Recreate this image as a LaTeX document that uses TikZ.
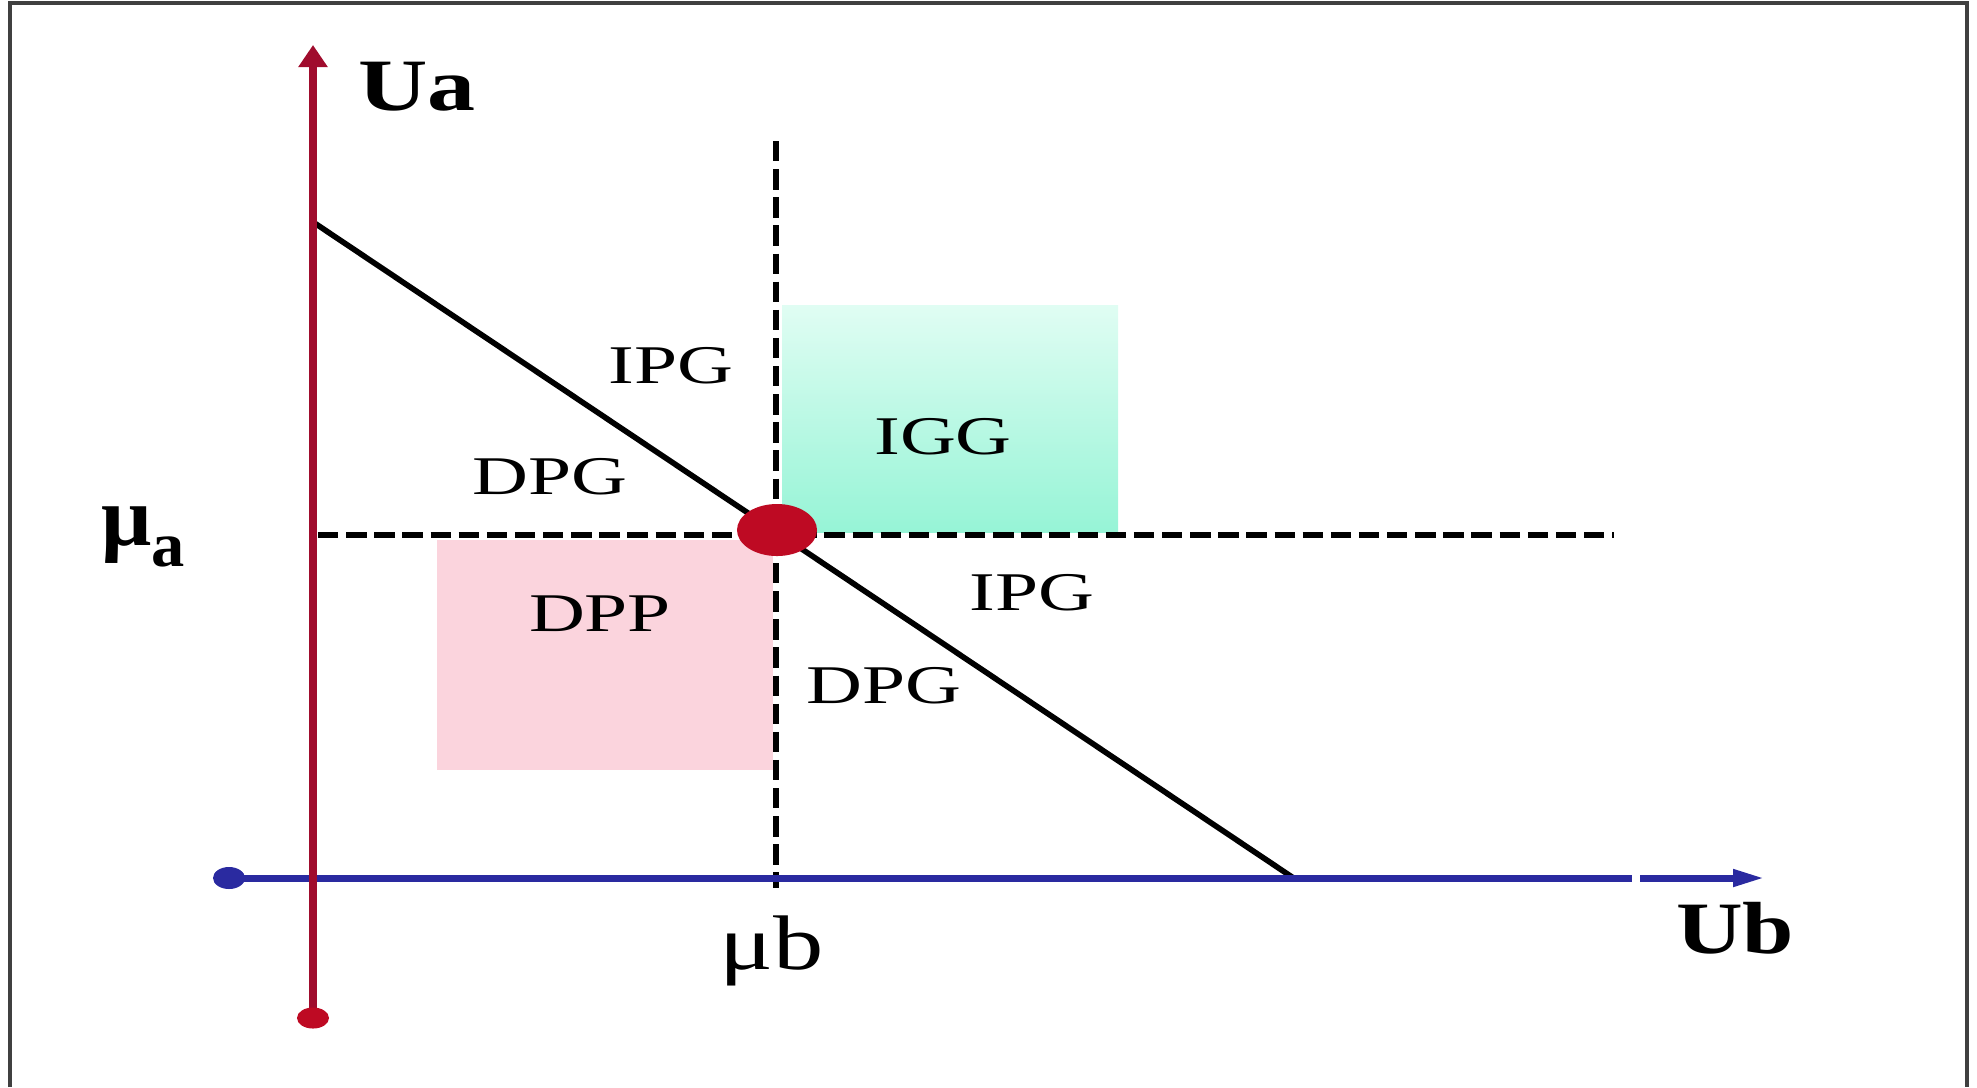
\documentclass[tikz,border=0pt]{standalone}
\usepackage{fontspec}
\setmainfont{Liberation Serif}
\usepackage{graphicx}
\usetikzlibrary{arrows.meta}
\newcommand{\xwide}[2][1.42]{\scalebox{#1}[1]{#2}}
\definecolor{axisred}{RGB}{160,12,45}
\definecolor{dotred}{RGB}{190,10,35}
\definecolor{axisblue}{RGB}{42,42,160}
\definecolor{mintlight}{RGB}{224,253,243}
\definecolor{mintdark}{RGB}{150,244,214}
\definecolor{pinkbox}{RGB}{251,212,221}
\begin{document}
\begin{tikzpicture}[x=0.01cm, y=-0.01cm,
  lbl/.style={font=\fontsize{15.5}{17}\selectfont, inner sep=0pt},
  axlbl/.style={font=\fontsize{21}{23}\selectfont\bfseries, inner sep=0pt},
  guide/.style={line width=1.6pt, dash pattern=on 5.8pt off 2.2pt}]
  \useasboundingbox (0,0) rectangle (1977,1087);
  \draw[line width=0.9pt, black!75] (10,1087) -- (10,3) -- (1967,3) -- (1967,1087);
  % zones
  \shade[top color=mintlight, bottom color=mintdark] (782,305) rectangle (1118,532);
  \fill[pinkbox] (437,540) rectangle (773,770);
  % guides through (mu_b, mu_a)
  \coordinate (vtop) at (776,141);
  \coordinate (vbot) at (776,888);
  \coordinate (hl) at (318,535);
  \coordinate (hr) at (1614,535);
  \draw[guide] (vtop) -- (vbot);
  \draw[guide] (hl) -- (hr);
  % line
  \coordinate (ua0) at (313,222);
  \coordinate (ub0) at (1295,879);
  \draw[line width=1.6pt] (ua0) -- (ub0);
  % Ub axis
  \coordinate (b0) at (229,878);
  \coordinate (bgap1) at (1632,878);
  \coordinate (bgap2) at (1640,878);
  \coordinate (ubtip) at (1765,878);
  \draw[axisblue, line width=2pt] (b0) -- (bgap1);
  \draw[axisblue, line width=2pt, -{Triangle[width=0.16cm,length=0.32cm]}] (bgap2) -- (ubtip);
  \fill[axisblue] (b0) ellipse [x radius=0.16cm, y radius=0.11cm];
  % Ua axis
  \coordinate (a0) at (313,1018);
  \coordinate (uatip) at (313,45);
  \draw[axisred, line width=2.5pt, -{Triangle[width=0.28cm,length=0.22cm]}] (a0) -- (uatip);
  \fill[dotred] (a0) ellipse [x radius=0.16cm, y radius=0.105cm];
  % point
  \coordinate (m) at (777,530);
  \fill[dotred] (m) ellipse [x radius=0.4cm, y radius=0.26cm];
  % labels
  \node[axlbl] (ua) at (417,87) {\xwide[1.3]{Ua}};
  \node[axlbl] (ub) at (1735,928) {\xwide[1.25]{Ub}};
  \node[lbl] (ipg1) at (671,366) {\xwide{IPG}};
  \node[lbl] (dpg1) at (550,477) {\xwide{DPG}};
  \node[lbl] (igg) at (943,437) {\xwide{IGG}};
  \node[lbl] (dpp) at (600,614) {\xwide{DPP}};
  \node[lbl] (ipg2) at (1032,593) {\xwide{IPG}};
  \node[lbl] (dpg2) at (884,686) {\xwide{DPG}};
  \node[inner sep=0pt, font=\fontsize{22}{24}\selectfont] (mub) at (772,951) {\xwide[1.3]{μb}};
  \node[inner sep=0pt, font=\fontsize{24}{26}\selectfont\bfseries] (mua) at (143,537)
    {\xwide[1.05]{μ\raisebox{-6pt}{\fontsize{18}{20}\selectfont a}}};
\end{tikzpicture}
\end{document}
